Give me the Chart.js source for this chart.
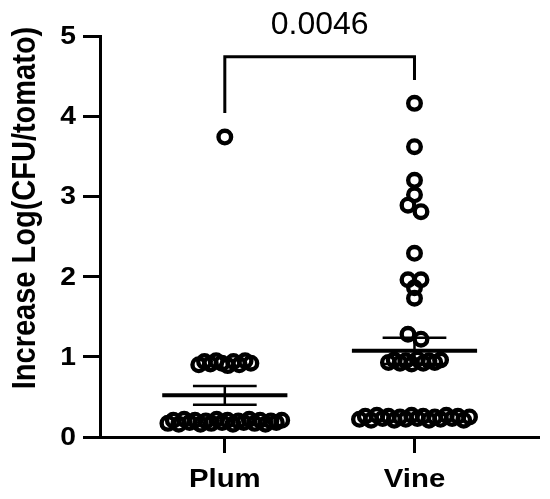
<!DOCTYPE html>
<html>
<head>
<meta charset="utf-8">
<script src="https://cdn.jsdelivr.net/npm/chart.js@4/dist/chart.umd.min.js"></script>
<style>
  body { margin: 0; background: #fff; }
  #wrap { width: 550px; height: 499px; }
</style>
</head>
<body>
<div id="wrap"><canvas id="dot-chart"></canvas></div>
<script>
// groups on the x axis
const categories = ['Plum', 'Vine'];

// Increase Log(CFU/tomato), one value per tomato
const plumValues = [
  3.74,
  0.90, 0.94, 0.91, 0.95, 0.92, 0.89, 0.94, 0.90, 0.95, 0.92,
  0.17, 0.21, 0.16, 0.22, 0.18, 0.21, 0.16, 0.20, 0.17, 0.22, 0.18,
  0.21, 0.16, 0.20, 0.18, 0.22, 0.17, 0.21, 0.16, 0.20, 0.18, 0.21
];
const vineValues = [
  4.16, 3.62, 3.20, 3.02, 2.89, 2.81, 2.29, 1.96, 1.96, 1.86, 1.73, 1.28, 1.22,
  0.93, 0.96, 0.92, 0.95, 0.91, 0.97, 0.92, 0.95, 0.93, 0.96,
  0.22, 0.26, 0.21, 0.27, 0.23, 0.26, 0.21, 0.25, 0.22, 0.27,
  0.23, 0.26, 0.21, 0.25, 0.22, 0.27, 0.23, 0.26, 0.21, 0.25
];

const yTicks = [0, 1, 2, 3, 4, 5];
const yTitle = 'Increase Log(CFU/tomato)';
const pValueText = '0.0046';

const FONT = "'Liberation Sans', Arial, Helvetica, sans-serif";
const PX_PER_X = 190; // rough px per x unit, only used to spread points sideways
const STRETCH = 1.13; // the bold labels in the source are a bit wide

// simple row swarm: points with near-equal values share a row and get spread out,
// squeezed when a row gets too wide
function swarm(values, center) {
  const order = values.map((v, i) => i).sort((a, b) => values[a] - values[b]);
  const rows = [];
  let cur = [];
  order.forEach(i => {
    if (cur.length && values[i] - values[cur[0]] > 0.085) { rows.push(cur); cur = []; }
    cur.push(i);
  });
  rows.push(cur);
  const xs = [];
  rows.forEach(r => {
    r.sort((a, b) => a - b);
    const px = r.length <= 3 ? 13 : Math.min(5.8, 114 / (r.length - 1));
    const step = px / PX_PER_X;
    r.forEach((i, k) => { xs[i] = center + (k - (r.length - 1) / 2) * step; });
  });
  return values.map((v, i) => ({ x: xs[i], y: v }));
}

function meanSem(vals) {
  const n = vals.length;
  const m = vals.reduce((a, b) => a + b, 0) / n;
  const sd = Math.sqrt(vals.reduce((a, b) => a + (b - m) * (b - m), 0) / (n - 1));
  return [m, sd / Math.sqrt(n)];
}

function wideText(ctx, text, x, y, align, baseline, rot) {
  ctx.save();
  ctx.translate(x, y);
  ctx.scale(STRETCH, 1);
  if (rot) ctx.rotate(rot);
  ctx.textAlign = align;
  ctx.textBaseline = baseline;
  ctx.fillText(text, 0, 0);
  ctx.restore();
}

// mean + SEM bars, bracket, and the axis labels
const overlay = {
  id: 'overlay',
  afterDatasetsDraw(chart) {
    const ctx = chart.ctx;
    const x = chart.scales.x, y = chart.scales.y;
    const area = chart.chartArea;
    ctx.save();
    ctx.strokeStyle = '#000';
    ctx.lineCap = 'butt';
    [plumValues, vineValues].forEach((vals, i) => {
      const [m, sem] = meanSem(vals);
      const c = i + 1;
      ctx.lineWidth = 4;
      ctx.beginPath();
      ctx.moveTo(x.getPixelForValue(c - 0.33), y.getPixelForValue(m));
      ctx.lineTo(x.getPixelForValue(c + 0.33), y.getPixelForValue(m));
      ctx.stroke();
      ctx.lineWidth = 2.5;
      ctx.beginPath();
      ctx.moveTo(x.getPixelForValue(c), y.getPixelForValue(m - sem));
      ctx.lineTo(x.getPixelForValue(c), y.getPixelForValue(m + sem));
      [m - sem, m + sem].forEach(v => {
        ctx.moveTo(x.getPixelForValue(c - 0.168), y.getPixelForValue(v));
        ctx.lineTo(x.getPixelForValue(c + 0.168), y.getPixelForValue(v));
      });
      ctx.stroke();
    });

    // bracket between the two groups
    ctx.lineWidth = 3;
    ctx.beginPath();
    ctx.moveTo(x.getPixelForValue(1), y.getPixelForValue(4.04));
    ctx.lineTo(x.getPixelForValue(1), y.getPixelForValue(4.74));
    ctx.lineTo(x.getPixelForValue(2), y.getPixelForValue(4.74));
    ctx.lineTo(x.getPixelForValue(2), y.getPixelForValue(4.45));
    ctx.stroke();
    ctx.fillStyle = '#000';
    ctx.font = '32px ' + FONT;
    ctx.textAlign = 'center';
    ctx.textBaseline = 'middle';
    ctx.fillText(pValueText, x.getPixelForValue(1.5), y.getPixelForValue(5.14));

    // tick labels and axis title
    ctx.font = 'bold 25px ' + FONT;
    yTicks.forEach(v => wideText(ctx, String(v), area.left - 24, y.getPixelForValue(v) + 8, 'right', 'alphabetic'));
    ctx.font = 'bold 26px ' + FONT;
    categories.forEach((c, i) => wideText(ctx, c, x.getPixelForValue(i + 1), area.bottom + 50, 'center', 'alphabetic'));
    ctx.font = 'bold 29px ' + FONT;
    wideText(ctx, yTitle, 26, area.top + 172, 'center', 'middle', -Math.PI / 2);
    ctx.restore();
  }
};

Chart.defaults.color = '#000';
Chart.defaults.font.family = FONT;

new Chart(document.getElementById('dot-chart'), {
  type: 'scatter',
  data: {
    datasets: [
      { label: categories[0], data: swarm(plumValues, 1) },
      { label: categories[1], data: swarm(vineValues, 2) }
    ]
  },
  options: {
    animation: false,
    responsive: true,
    maintainAspectRatio: false,
    layout: { padding: { top: 36, right: 10, left: 0, bottom: 0 } },
    elements: {
      point: {
        radius: 6.3,
        borderWidth: 4.4,
        borderColor: '#000',
        backgroundColor: 'rgba(0,0,0,0)',
        hoverRadius: 6.3
      }
    },
    plugins: {
      legend: { display: false },
      tooltip: { enabled: false }
    },
    scales: {
      x: {
        type: 'linear',
        min: 0.342,
        max: 2.658,
        afterBuildTicks: s => { s.ticks = [{ value: 1 }, { value: 2 }]; },
        afterFit: s => { s.height = 62; },
        ticks: { display: false },
        grid: {
          drawOnChartArea: false,
          tickLength: 16,
          tickWidth: 3,
          tickColor: '#000'
        },
        border: { display: true, width: 3, color: '#000' }
      },
      y: {
        min: yTicks[0],
        max: yTicks[yTicks.length - 1],
        afterBuildTicks: s => { s.ticks = yTicks.map(v => ({ value: v })); },
        afterFit: s => { s.width = 100; },
        ticks: { display: false },
        grid: {
          drawOnChartArea: false,
          tickLength: 17,
          tickWidth: 3,
          tickColor: '#000'
        },
        border: { display: true, width: 3, color: '#000' }
      }
    }
  },
  plugins: [overlay]
});
</script>
</body>
</html>
